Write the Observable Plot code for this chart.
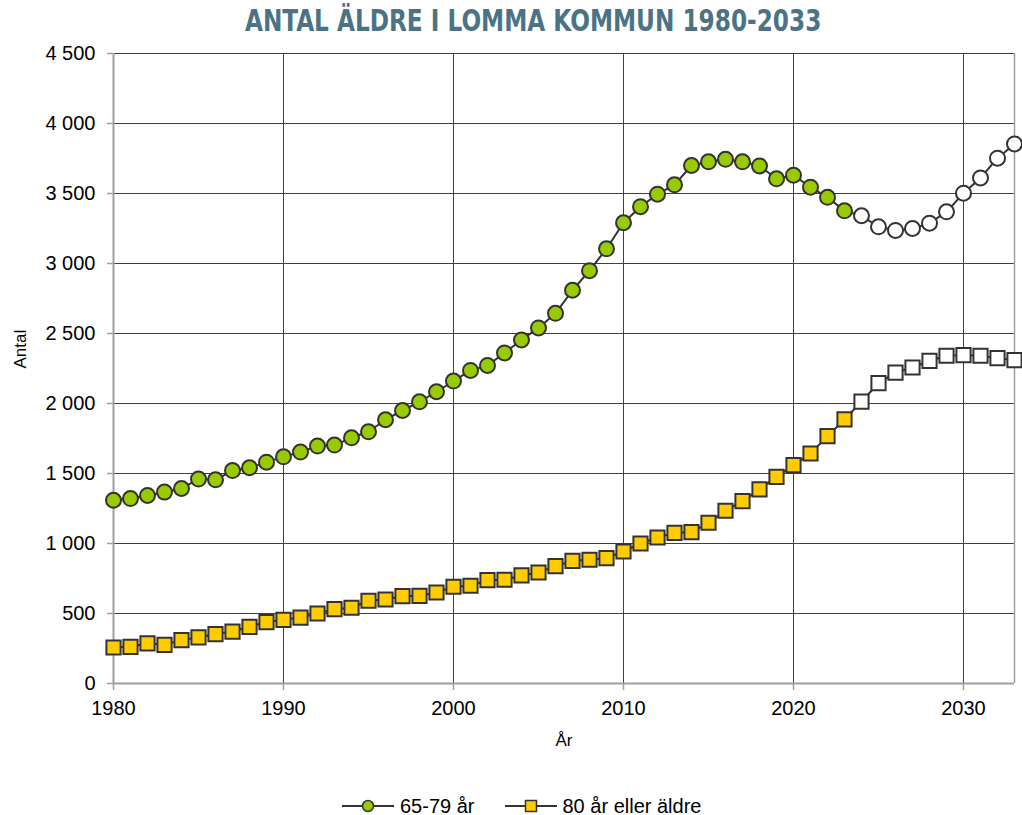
<!DOCTYPE html>
<html>
<head>
<meta charset="utf-8">
<script src="https://cdn.jsdelivr.net/npm/d3@7"></script>
<script src="https://cdn.jsdelivr.net/npm/@observablehq/plot@0.6"></script>
<style>
  html, body { margin: 0; padding: 0; background: #fff; overflow: hidden; }
  body { width: 1022px; height: 815px; position: relative; font-family: "Liberation Sans", Arial, sans-serif; }
  #title { position: absolute; left: 0; top: 0; width: 1066px; height: 40px; line-height: 42px; text-align: center; }
  #title span { display: inline-block; transform: scaleX(0.86); transform-origin: center;
           font-family: "DejaVu Sans Condensed", "DejaVu Sans", sans-serif; font-weight: bold; font-size: 30px; color: #4b7385; }
  #chart { position: absolute; left: 0; top: 40px; }
  #legend { position: absolute; left: 342px; top: 794px; height: 24px; display: flex; align-items: center; font-size: 20px; color: #000; }
  .item { display: flex; align-items: center; margin-right: 30px; }
  .item svg { margin-right: 6px; }
</style>
</head>
<body>
<div id="title"><span>ANTAL ÄLDRE I LOMMA KOMMUN 1980-2033</span></div>
<div id="chart"></div>
<div id="legend"></div>
<script>
// ---- data ----
const years = [1980,1981,1982,1983,1984,1985,1986,1987,1988,1989,
               1990,1991,1992,1993,1994,1995,1996,1997,1998,1999,
               2000,2001,2002,2003,2004,2005,2006,2007,2008,2009,
               2010,2011,2012,2013,2014,2015,2016,2017,2018,2019,
               2020,2021,2022,2023,2024,2025,2026,2027,2028,2029,
               2030,2031,2032,2033];
const age65to79 = [1309,1321,1343,1367,1393,1460,1455,1521,1541,1581,
                   1619,1653,1696,1703,1755,1798,1884,1950,2012,2084,
                   2160,2236,2272,2361,2454,2540,2644,2809,2949,3105,
                   3291,3406,3495,3562,3700,3726,3744,3726,3697,3605,
                   3631,3545,3473,3376,3341,3262,3236,3250,3288,3369,
                   3502,3611,3752,3854];
const age80plus = [257,262,286,276,310,329,353,371,405,439,
                   455,471,500,531,541,591,600,624,626,650,
                   691,698,738,741,772,793,838,876,884,896,
                   943,1000,1043,1076,1081,1148,1234,1303,1386,1476,
                   1560,1643,1767,1886,2014,2145,2221,2257,2305,2341,
                   2346,2341,2324,2310];
const seriesNames = ["65-79 år", "80 år eller äldre"];
const firstProjectionYear = 2024;
const yTicks = [0,500,1000,1500,2000,2500,3000,3500,4000,4500];
const xTicks = [1980,1990,2000,2010,2020,2030];
const xLabel = "År";
const yLabel = "Antal";

// ---- table ----
const rows = [];
years.forEach((yr, i) => {
  rows.push({year: yr, value: age65to79[i], series: seriesNames[0], proj: yr >= firstProjectionYear});
  rows.push({year: yr, value: age80plus[i], series: seriesNames[1], proj: yr >= firstProjectionYear});
});
const s1 = rows.filter(d => d.series === seriesNames[0]);
const s2 = rows.filter(d => d.series === seriesNames[1]);

const fmt = d => d3.format(",")(d).replace(/,/g, " ");
const green = "#99cc00", yellow = "#ffcc00", edge = "#333333";

const chart = Plot.plot({
  width: 1022,
  height: 745,
  marginLeft: 113,
  marginRight: 8,
  marginTop: 13,
  marginBottom: 102,
  style: {fontFamily: "'Liberation Sans', Arial, sans-serif", fontSize: "20px", color: "#000", background: "#fff"},
  x: {domain: [1980, 2033]},
  y: {domain: [0, 4500]},
  marks: [
    Plot.gridY(yTicks, {stroke: "#404040", strokeOpacity: 1, strokeWidth: 1}),
    Plot.gridX(xTicks, {stroke: "#404040", strokeOpacity: 1, strokeWidth: 1}),
    Plot.ruleX([2033], {stroke: "#a0a0a0", strokeWidth: 1.5}),
    Plot.ruleY([0], {stroke: "#a0a0a0", strokeWidth: 2}),
    Plot.ruleX([1980], {stroke: "#a0a0a0", strokeWidth: 2}),
    Plot.axisY(yTicks, {tickSize: 6, tickPadding: 12, tickFormat: fmt, stroke: "#a0a0a0", strokeWidth: 1.5, fill: "#000", fontSize: 20, label: null}),
    Plot.axisX(xTicks, {tickSize: 7, tickPadding: 10, tickFormat: d => String(d), stroke: "#a0a0a0", strokeWidth: 1.5, fill: "#000", fontSize: 20, label: null}),
    Plot.text([yLabel], {frameAnchor: "left", dx: -93, rotate: -90, fontSize: 17, fill: "#000"}),
    Plot.text([xLabel], {frameAnchor: "bottom", dy: 62, fontSize: 17, fill: "#000"}),
    Plot.line(rows, {x: "year", y: "value", z: "series", stroke: edge, strokeWidth: 2}),
    Plot.dot(s1, {filter: d => !d.proj, x: "year", y: "value", r: 7.5, fill: green, stroke: edge, strokeWidth: 2}),
    Plot.dot(s1, {filter: d => d.proj, x: "year", y: "value", r: 7.5, fill: "#fff", stroke: edge, strokeWidth: 2}),
    Plot.dot(s2, {filter: d => !d.proj, x: "year", y: "value", symbol: "square", r: 8, fill: yellow, stroke: edge, strokeWidth: 2}),
    Plot.dot(s2, {filter: d => d.proj, x: "year", y: "value", symbol: "square", r: 8, fill: "#fff", stroke: edge, strokeWidth: 2})
  ]
});
document.getElementById("chart").appendChild(chart);

// ---- legend ----
const legend = document.getElementById("legend");
const markers = [
  {name: seriesNames[0], shape: `<circle cx="26" cy="10" r="5.5" fill="${green}" stroke="${edge}" stroke-width="1.5"/>`},
  {name: seriesNames[1], shape: `<rect x="20.5" y="4.5" width="11" height="11" fill="${yellow}" stroke="${edge}" stroke-width="1.5"/>`}
];
markers.forEach(m => {
  const el = document.createElement("div");
  el.className = "item";
  el.innerHTML = `<svg width="52" height="20"><line x1="0" x2="52" y1="10" y2="10" stroke="${edge}" stroke-width="2"/>${m.shape}</svg><span>${m.name}</span>`;
  legend.appendChild(el);
});
</script>
</body>
</html>
